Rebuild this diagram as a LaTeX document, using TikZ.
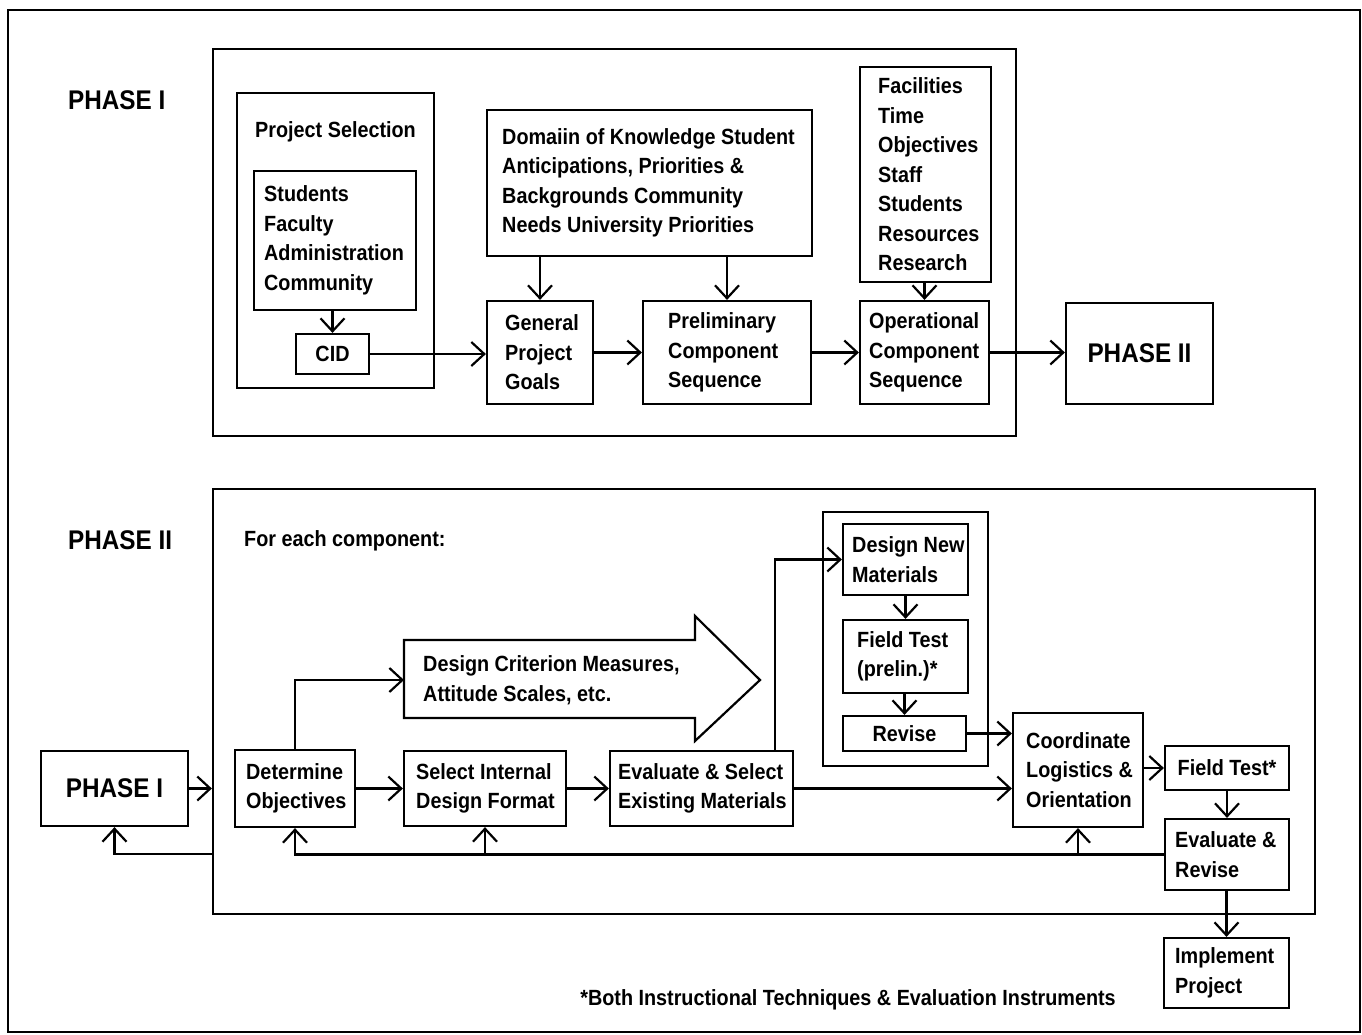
\documentclass[tikz,border=0pt]{standalone}
\usepackage{fontspec}
\setmainfont{Liberation Sans}[FakeStretch=0.9]
\usetikzlibrary{arrows.meta}
\newcommand\bx[7]{% name x0 y0 x1 y1 pad text
  \pgfmathsetmacro\bxw{#4-#2}\pgfmathsetmacro\bxh{#5-#3}%
  \pgfmathsetmacro\bxcx{(#2+#4)/2}\pgfmathsetmacro\bxcy{(#3+#5)/2}%
  \pgfmathsetmacro\bxtx{#2+#6}%
  \node[box, minimum width=\bxw pt, minimum height=\bxh pt] (#1) at (\bxcx,\bxcy) {};
  \node[txt, anchor=west] (#1-t) at (\bxtx,\bxcy) {#7};}
\newcommand\cbx[7][]{% [opts] name x0 y0 x1 y1 text (centred)
  \pgfmathsetmacro\bxw{#5-#3}\pgfmathsetmacro\bxh{#6-#4}%
  \pgfmathsetmacro\bxcx{(#3+#5)/2}\pgfmathsetmacro\bxcy{(#4+#6)/2}%
  \node[box, align=center, minimum width=\bxw pt, minimum height=\bxh pt, #1] (#2) at (\bxcx,\bxcy) {#7};}
\begin{document}
\begin{tikzpicture}[x=1pt,y=-1pt,
  every node/.style={font=\fontsize{22}{29.5}\selectfont\bfseries},
  box/.style={draw, line width=2.2pt, inner sep=0pt},
  txt/.style={align=left, inner sep=0pt},
  big/.style={font=\fontsize{27}{30}\selectfont\bfseries},
  arr/.style={line width=2.2pt, -{Straight Barb[length=13pt,width=24pt,line width=2.2pt]}},
  ln/.style={line width=2.2pt}]
\useasboundingbox (0,0) rectangle (1362,1034);
\draw[line width=2.5pt] (8,10) rectangle (1360,1032);

% ---------- PHASE I ----------
\node[big, anchor=west, inner sep=0pt] (lab1) at (68,100) {PHASE I};
\node[box, minimum width=803pt, minimum height=387pt] (fr1) at (614.5,242.5) {};
\node[box, minimum width=197pt, minimum height=295pt] (psel) at (335.5,240.5) {};
\node[txt, anchor=west] (psel-t) at (255,132) {Project Selection};
\bx{stud}{254}{171}{416}{310}{10}{Students\\Faculty\\Administration\\Community}
\cbx{cid}{296}{334}{369}{374}{CID}
\bx{gen}{487}{301}{593}{404}{18}{General\\Project\\Goals}
\bx{dom}{487}{110}{812}{256}{15}{Domaiin of Knowledge Student\\Anticipations, Priorities \&\\Backgrounds Community\\Needs University Priorities}
\bx{pre}{643}{301}{811}{404}{25}{Preliminary\\Component\\Sequence}
\bx{fac}{860}{67}{991}{282}{18}{Facilities\\Time\\Objectives\\Staff\\Students\\Resources\\Research}
\bx{ops}{860}{301}{989}{404}{9}{Operational\\Component\\Sequence}
\cbx[big]{p2box}{1066}{303}{1213}{404}{PHASE II}

\draw[arr] (cid.north |- stud.south) -- (cid.north);
\draw[arr] (cid.east) -- (cid.east -| gen.west);
\draw[arr] (gen.north |- dom.south) -- (gen.north);
\draw[arr] (pre.north |- dom.south) -- (pre.north);
\draw[arr] (gen.east) -- (pre.west);
\draw[arr] (pre.east) -- (ops.west);
\draw[arr] (ops.north |- fac.south) -- (ops.north);
\draw[arr] (ops.east) -- (ops.east -| p2box.west);

% ---------- PHASE II ----------
\node[big, anchor=west, inner sep=0pt] (lab2) at (68,540) {PHASE II};
\node[box, minimum width=1102pt, minimum height=425pt] (fr2) at (764,701.5) {};
\node[txt, anchor=west] (fec) at (244,541) {For each component:};
\cbx[big]{p1box}{41}{751}{188}{826}{PHASE I}
\bx{det}{235}{750}{355}{827}{11}{Determine\\Objectives}
\bx{sel}{404}{751}{566}{826}{12}{Select Internal\\Design Format}
\bx{eva}{610}{751}{793}{826}{8}{Evaluate \& Select\\Existing Materials}
\node[box, minimum width=165pt, minimum height=254pt] (encl) at (905.5,639) {};
\bx{dnm}{843}{524}{968}{595}{9}{Design New\\Materials}
\bx{ftp}{843}{620}{968}{693}{14}{Field Test\\(prelin.)*}
\cbx{rev}{843}{716}{966}{751}{Revise}
\bx{coo}{1013}{713}{1143}{827}{13}{Coordinate\\Logistics \&\\Orientation}
\cbx{ft}{1165}{746}{1289}{790}{Field Test*}
\bx{evr}{1165}{819}{1289}{890}{10}{Evaluate \&\\Revise}
\bx{imp}{1164}{938}{1289}{1008}{11}{Implement\\Project}

% big arrow shape
\draw[line width=2.2pt] (404,640) -- (695,640) -- (695,616) -- (760,680) -- (695,741) -- (695,718) -- (404,718) -- cycle;
\coordinate (dcmL) at (404,680);
\node[txt, anchor=west] (dcm) at (423,680) {Design Criterion Measures,\\Attitude Scales, etc.};

\coordinate (fb) at (213,854);
\coordinate (evatop) at (775,751);
\draw[arr] (p1box.east) -- (p1box.east -| fr2.west);
\draw[arr] (fb) -| (p1box.south);
\draw[arr] (det.north) |- (dcmL);
\draw[arr] (det.east) -- (sel.west);
\draw[arr] (sel.east) -- (eva.west);
\draw[arr] (evatop) |- (dnm.west);
\draw[arr] (eva.east) -- (eva.east -| coo.west);
\draw[arr] (dnm.south) -- (ftp.north);
\draw[arr] (rev.north |- ftp.south) -- (rev.north);
\draw[arr] (rev.east) -- (rev.east -| coo.west);
\draw[arr] (ft.west -| coo.east) -- (ft.west);
\draw[arr] (ft.south) -- (evr.north);
\draw[arr] (evr.west) -| (det.south);
\draw[arr] (sel.south |- evr.west) -- (sel.south);
\draw[arr] (coo.south |- evr.west) -- (coo.south);
\draw[arr] (imp.north |- evr.south) -- (imp.north);

\node[inner sep=0pt] (note) at (848,1000) {*Both Instructional Techniques \& Evaluation Instruments};
\end{tikzpicture}
\end{document}
